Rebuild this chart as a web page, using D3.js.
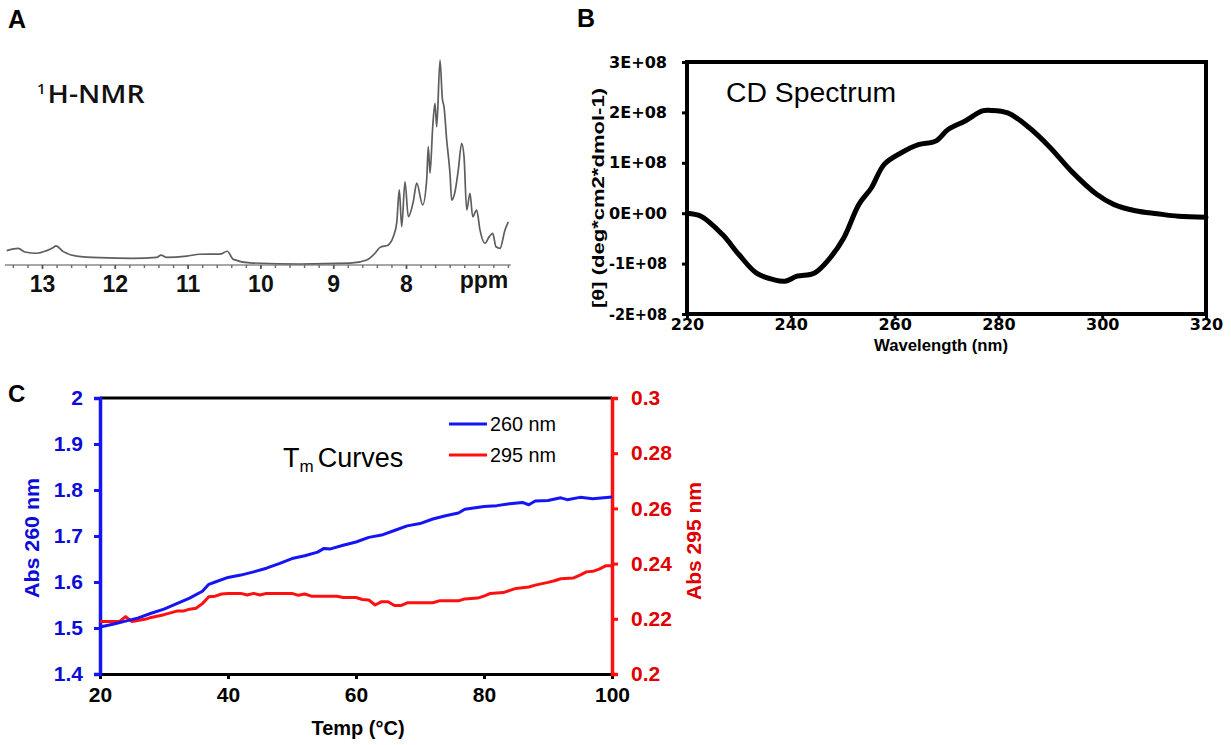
<!DOCTYPE html>
<html><head><meta charset="utf-8">
<script src="https://cdn.jsdelivr.net/npm/d3@7"></script>
<style>
body{margin:0;background:#fff;}
svg{display:block;}
</style></head><body>
<svg id="fig" width="1231" height="745" font-family="Arial, 'Liberation Sans', sans-serif"></svg>
<script>
// ---- Panel A: 1H-NMR spectrum (chemical shift in ppm, relative intensity) ----
const nmrPpm = [13.485,13.326,13.234,13.073,12.935,12.85,12.808,12.707,12.523,12.203,11.75,11.424,11.365,11.287,11.012,10.83,10.555,10.455,10.372,10.143,9.456,8.769,8.54,8.426,8.357,8.243,8.174,8.128,8.092,8.059,8.014,7.968,7.9,7.853,7.771,7.716,7.694,7.67,7.633,7.602,7.578,7.533,7.501,7.478,7.441,7.396,7.372,7.327,7.282,7.235,7.203,7.166,7.121,7.084,7.029,6.984,6.915,6.856,6.809,6.764,6.709,6.64,6.595];
const nmrIntensity = [6.1,7.2,5.4,4.8,6.1,7.5,8.4,5.6,3.4,2.6,2.3,2.8,3.9,2.8,3.4,4.3,4.4,5.8,1.8,0.1,-0.5,-0.1,1.5,4.8,7.7,8.9,13.0,19.6,36.0,17.9,40.0,22.8,30.2,39.3,28.6,40.9,57.3,44.3,67.1,78.7,67.1,100,81.1,77.0,60.6,44.2,31.0,35.1,45.8,59.0,52.4,26.1,34.3,22.8,26.1,16.3,9.7,13.0,14.6,8.0,7.2,16.3,20.3];
const nmrTicks = [13, 12, 11, 10, 9, 8];
const nmrRange = [13.51, 6.56];

// ---- Panel B: CD spectrum ----
const cdWavelength = [220,222.7,226.8,230,233.4,236.7,238.9,241.2,244.5,247.3,250.2,253.1,255.5,258,261.3,264.6,267.9,270.3,273.6,276.9,278.5,281.8,285.9,290,294.1,299,302.3,306.4,310.6,314.7,320];
const cdTheta = [0.0,-0.06e8,-0.42e8,-0.82e8,-1.19e8,-1.32e8,-1.35e8,-1.25e8,-1.19e8,-0.92e8,-0.49e8,0.17e8,0.5e8,0.97e8,1.2e8,1.36e8,1.43e8,1.66e8,1.83e8,2.03e8,2.04e8,1.99e8,1.70e8,1.30e8,0.83e8,0.37e8,0.17e8,0.05e8,-0.01e8,-0.06e8,-0.08e8];
const cdXTicks = [220, 240, 260, 280, 300, 320];
const cdYTicks = [-2e8, -1e8, 0, 1e8, 2e8, 3e8];
const cdYTickLabels = ["-2E+08", "-1E+08", "0E+00", "1E+08", "2E+08", "3E+08"];

// ---- Panel C: melting curves ----
const temp260 = [20,22,24,26,28,30,32,34,36,37,38,40,42,44,46,48,50,52,54,55,56,58,60,62,64,66,68,70,72,74,76,77,80,82,84,86,87,88,90,92,93,95,97,100];
const abs260 = [1.502,1.508,1.515,1.522,1.532,1.541,1.553,1.565,1.580,1.595,1.600,1.610,1.615,1.622,1.630,1.640,1.651,1.657,1.665,1.673,1.672,1.680,1.687,1.697,1.702,1.712,1.722,1.727,1.737,1.744,1.750,1.758,1.764,1.766,1.770,1.773,1.768,1.776,1.777,1.783,1.779,1.784,1.781,1.785];
const temp295 = [20,22,23,24,25,27,28,30,32,33,34,35,36,37,38,39,40,42,43,44,45,46,48,50,51,52,53,55,57,58,60,61,62,63,64,65,66,67,68,70,72,73,75,76,77,79,80,81,83,85,87,88,90,91,92,94,95,96,97,98,99,100];
const abs295 = [0.219,0.219,0.219,0.2208,0.219,0.2198,0.2205,0.2215,0.2228,0.2228,0.2235,0.2238,0.2255,0.228,0.2282,0.229,0.2292,0.2292,0.2286,0.2292,0.2286,0.2292,0.2292,0.2292,0.2285,0.229,0.2282,0.2282,0.2282,0.2277,0.2277,0.227,0.2268,0.225,0.2262,0.2262,0.2248,0.2248,0.2258,0.2258,0.2258,0.2265,0.2265,0.2265,0.2272,0.2275,0.2282,0.2292,0.2295,0.231,0.2315,0.2322,0.2332,0.2338,0.2345,0.2348,0.2358,0.237,0.2372,0.238,0.2392,0.2392];
const tmXTicks = [20, 40, 60, 80, 100];
const tmLeftTicks = [1.4, 1.5, 1.6, 1.7, 1.8, 1.9, 2];
const tmRightTicks = [0.2, 0.22, 0.24, 0.26, 0.28, 0.3];
const tmSeries = ["260 nm", "295 nm"];

const ARIAL = "Arial, 'Liberation Sans', sans-serif";
const DEJAVU = "'DejaVu Sans', Verdana, sans-serif";
const NARROW = "'Liberation Sans Narrow', 'Arial Narrow', Arial, sans-serif";
const BLUE = "#1414f5", RED = "#ff1010";
const svg = d3.select("#fig");

/* ================= Panel A ================= */
const xA = d3.scaleLinear().domain([13, 8]).range([42, 406]);
const yA = d3.scaleLinear().domain([0, 100]).range([263, 60]);
const gA = svg.append("g");
gA.append("text").attr("x", 8).attr("y", 28).style("font-size", "25px").style("font-weight", "bold").text("A");

// ppm axis with minor ticks every 0.2 ppm
const minor = d3.range(13.4, 6.59, -0.2).map(v => +v.toFixed(1));
gA.append("line").attr("x1", xA(nmrRange[0])).attr("x2", xA(nmrRange[1]))
  .attr("y1", 265).attr("y2", 265).attr("stroke", "#8a8a8a").attr("stroke-width", 1.6);
gA.append("g").attr("transform", "translate(0,265)")
  .call(d3.axisBottom(xA).tickValues(minor).tickSize(3).tickFormat(""))
  .call(g => g.select(".domain").remove())
  .call(g => g.selectAll("line").attr("stroke", "#6a6a6a").attr("stroke-width", 1.4));
gA.append("g").attr("transform", "translate(0,265)")
  .call(d3.axisBottom(xA).tickValues(nmrTicks).tickSize(4).tickPadding(7).tickFormat(d3.format("d")))
  .call(g => g.select(".domain").remove())
  .call(g => g.selectAll("line").attr("stroke", "#555").attr("stroke-width", 1.6))
  .call(g => g.selectAll("text").style("font-size", "23px").style("font-weight", "bold").style("font-family", ARIAL).attr("fill", "#111"));
gA.append("text").attr("x", 484).attr("y", 288).attr("text-anchor", "middle")
  .style("font-size", "23px").style("font-weight", "bold").attr("fill", "#111").text("ppm");

const nmrLine = d3.line().x((d, i) => xA(nmrPpm[i])).y((d, i) => yA(nmrIntensity[i])).curve(d3.curveMonotoneX);
gA.append("path").datum(nmrPpm).attr("d", nmrLine).attr("fill", "none")
  .attr("stroke", "#5e5e5e").attr("stroke-width", 1.7).attr("stroke-linejoin", "round");

const nmrTitle = gA.append("text").attr("x", 37).attr("y", 103)
  .style("font-family", "'Open Sans', " + ARIAL).style("font-size", "25px").style("font-weight", "600").attr("fill", "#111");
nmrTitle.append("tspan").style("font-size", "15px").attr("dy", -9).text("1");
nmrTitle.append("tspan").attr("dy", 9).attr("dx", 2).attr("textLength", 97).attr("lengthAdjust", "spacingAndGlyphs").text("H-NMR");

/* ================= Panel B ================= */
const xB = d3.scaleLinear().domain([220, 320]).range([687, 1206]);
const yB = d3.scaleLinear().domain([-2e8, 3e8]).range([314, 62]);
const gB = svg.append("g");
gB.append("text").attr("x", 577).attr("y", 27).style("font-family", NARROW).style("font-size", "25px").style("font-weight", "bold").text("B");

gB.append("g").attr("transform", "translate(687,0)")
  .call(d3.axisLeft(yB).tickValues(cdYTicks).tickSize(5).tickPadding(15).tickFormat((d, i) => cdYTickLabels[i]))
  .call(g => g.select(".domain").remove())
  .call(g => g.selectAll("line").attr("stroke", "#000").attr("stroke-width", 3))
  .call(g => g.selectAll("text").style("font-size", "16px").style("font-weight", "bold").style("font-family", DEJAVU)
    .attr("fill", "#000").attr("textLength", 58).attr("lengthAdjust", "spacingAndGlyphs"));
gB.append("g").attr("transform", "translate(0,314)")
  .call(d3.axisBottom(xB).tickValues(cdXTicks).tickSize(4).tickPadding(1).tickFormat(d3.format("d")))
  .call(g => g.select(".domain").remove())
  .call(g => g.selectAll("line").attr("stroke", "#000").attr("stroke-width", 3))
  .call(g => g.selectAll("text").style("font-size", "16px").style("font-weight", "bold").style("font-family", DEJAVU).attr("fill", "#000"));
gB.append("rect").attr("x", 687).attr("y", 62).attr("width", 519).attr("height", 252)
  .attr("fill", "none").attr("stroke", "#000").attr("stroke-width", 4);

const cdLine = d3.line().x((d, i) => xB(cdWavelength[i])).y((d, i) => yB(cdTheta[i])).curve(d3.curveCatmullRom);
gB.append("path").datum(cdWavelength).attr("d", cdLine).attr("fill", "none")
  .attr("stroke", "#000").attr("stroke-width", 5).attr("stroke-linejoin", "round").attr("stroke-linecap", "round");

gB.append("text").attr("x", 726).attr("y", 102).style("font-family", NARROW).style("font-size", "27px")
  .attr("textLength", 170).attr("lengthAdjust", "spacingAndGlyphs").text("CD Spectrum");
gB.append("text").attr("transform", "translate(604,198) rotate(-90)").attr("text-anchor", "middle")
  .style("font-size", "16px").style("font-weight", "bold").attr("textLength", 220).attr("lengthAdjust", "spacingAndGlyphs")
  .text("[θ] (deg*cm2*dmol-1)");
gB.append("text").attr("x", 941).attr("y", 351).attr("text-anchor", "middle")
  .style("font-size", "16px").style("font-weight", "bold").attr("textLength", 134).attr("lengthAdjust", "spacingAndGlyphs")
  .text("Wavelength (nm)");

/* ================= Panel C ================= */
const xC = d3.scaleLinear().domain([20, 100]).range([100, 612]);
const yL = d3.scaleLinear().domain([1.4, 2]).range([674, 398]);
const yR = d3.scaleLinear().domain([0.2, 0.3]).range([674, 398]);
const gC = svg.append("g");
gC.append("text").attr("x", 8).attr("y", 402).style("font-size", "24px").style("font-weight", "bold").text("C");

// top frame line
gC.append("line").attr("x1", 100).attr("x2", 612).attr("y1", 398).attr("y2", 398).attr("stroke", "#000").attr("stroke-width", 3);
gC.append("g").attr("transform", "translate(0,674)")
  .call(d3.axisBottom(xC).tickValues(tmXTicks).tickSize(5).tickPadding(8).tickFormat(d3.format("d")))
  .call(g => g.select(".domain").attr("stroke", "#000").attr("stroke-width", 3))
  .call(g => g.selectAll("line").attr("stroke", "#000").attr("stroke-width", 3))
  .call(g => g.selectAll("text").style("font-size", "21px").style("font-weight", "bold").attr("fill", "#000"));
gC.append("g").attr("transform", "translate(100,0)")
  .call(d3.axisLeft(yL).tickValues(tmLeftTicks).tickSize(6).tickPadding(11).tickFormat(d => String(d)))
  .call(g => g.select(".domain").attr("stroke", BLUE).attr("stroke-width", 3.5))
  .call(g => g.selectAll("line").attr("stroke", BLUE).attr("stroke-width", 3))
  .call(g => g.selectAll("text").style("font-size", "21px").style("font-weight", "bold").attr("fill", "#0c0cd8"));
gC.append("g").attr("transform", "translate(612,0)")
  .call(d3.axisRight(yR).tickValues(tmRightTicks).tickSize(6).tickPadding(13).tickFormat(d => String(d)))
  .call(g => g.select(".domain").attr("stroke", RED).attr("stroke-width", 3.5))
  .call(g => g.selectAll("line").attr("stroke", RED).attr("stroke-width", 3))
  .call(g => g.selectAll("text").style("font-size", "21px").style("font-weight", "bold").attr("fill", "#e00000"));

const line260 = d3.line().x((d, i) => xC(temp260[i])).y((d, i) => yL(abs260[i]));
const line295 = d3.line().x((d, i) => xC(temp295[i])).y((d, i) => yR(abs295[i]));
gC.append("path").datum(temp295).attr("d", line295).attr("fill", "none").attr("stroke", RED).attr("stroke-width", 3).attr("stroke-linejoin", "round");
gC.append("path").datum(temp260).attr("d", line260).attr("fill", "none").attr("stroke", BLUE).attr("stroke-width", 3).attr("stroke-linejoin", "round");

// legend
const legend = gC.append("g").attr("transform", "translate(449,424)");
[BLUE, RED].forEach((c, i) => {
  legend.append("line").attr("x1", 0).attr("x2", 38).attr("y1", i * 31).attr("y2", i * 31).attr("stroke", c).attr("stroke-width", 3);
  legend.append("text").attr("x", 41).attr("y", i * 31 + 7).style("font-family", NARROW).style("font-size", "21px")
    .attr("textLength", 66).attr("lengthAdjust", "spacingAndGlyphs").text(tmSeries[i]);
});

const tmTitle = gC.append("text").attr("x", 283).attr("y", 467).style("font-family", NARROW).style("font-size", "27px");
tmTitle.append("tspan").text("T");
tmTitle.append("tspan").style("font-size", "17px").attr("dy", 5).text("m");
tmTitle.append("tspan").attr("dy", -5).attr("dx", 4).text("Curves");

gC.append("text").attr("transform", "translate(39,538) rotate(-90)").attr("text-anchor", "middle")
  .style("font-size", "20px").style("font-weight", "bold").attr("fill", "#0c0cd8")
  .attr("textLength", 120).attr("lengthAdjust", "spacingAndGlyphs").text("Abs 260 nm");
gC.append("text").attr("transform", "translate(701,541) rotate(-90)").attr("text-anchor", "middle")
  .style("font-size", "20px").style("font-weight", "bold").attr("fill", "#e00000")
  .attr("textLength", 118).attr("lengthAdjust", "spacingAndGlyphs").text("Abs 295 nm");
gC.append("text").attr("x", 358).attr("y", 735).attr("text-anchor", "middle")
  .style("font-family", NARROW).style("font-size", "20px").style("font-weight", "bold").text("Temp (°C)");
</script>
</body></html>
